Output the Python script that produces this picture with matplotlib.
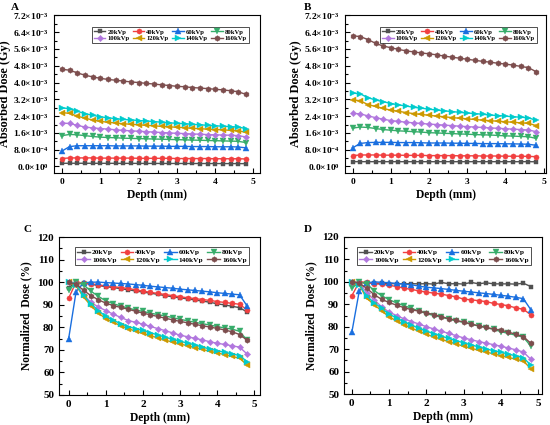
import numpy as np
import matplotlib
matplotlib.use("Agg")
import matplotlib.pyplot as plt
from matplotlib.ticker import FixedLocator, MultipleLocator, FuncFormatter

plt.rcParams['font.family'] = ['Liberation Serif', 'DejaVu Serif']
plt.rcParams['font.weight'] = 'bold'
plt.rcParams['mathtext.fontset'] = 'custom'
plt.rcParams['mathtext.rm'] = 'Liberation Serif:bold'
plt.rcParams['mathtext.bf'] = 'Liberation Serif:bold'
plt.rcParams['mathtext.it'] = 'Liberation Serif:bold:italic'

## depth points (mm)
depth = [0.0, 0.2, 0.4, 0.6, 0.8, 1.0, 1.2, 1.4, 1.6, 1.8, 2.0, 2.2, 2.4,
         2.6, 2.8, 3.0, 3.2, 3.4, 3.6, 3.8, 4.0, 4.2, 4.4, 4.6, 4.8]
series_names = ['20kVp', '40kVp', '60kVp', '80kVp',
                '100kVp', '120kVp', '140kVp', '160kVp']

## panel A : absorbed dose, units of 1e-3 Gy
a20 = [0.151, 0.155, 0.154, 0.154, 0.153, 0.152, 0.151, 0.151, 0.150, 0.149, 0.148, 0.147, 0.147,
       0.146, 0.145, 0.144, 0.144, 0.143, 0.142, 0.141, 0.140, 0.139, 0.138, 0.137, 0.135]
a40 = [0.38, 0.41, 0.41, 0.41, 0.41, 0.40, 0.40, 0.40, 0.40, 0.40, 0.39, 0.39, 0.39,
       0.39, 0.39, 0.38, 0.38, 0.38, 0.38, 0.38, 0.37, 0.37, 0.37, 0.37, 0.36]
a60 = [0.74, 0.95, 0.99, 0.99, 0.99, 0.99, 0.99, 0.98, 0.98, 0.98, 0.98, 0.97, 0.97,
       0.97, 0.96, 0.96, 0.96, 0.95, 0.95, 0.95, 0.94, 0.94, 0.94, 0.93, 0.89]
a80 = [1.47, 1.53, 1.51, 1.47, 1.43, 1.40, 1.38, 1.37, 1.35, 1.34, 1.33, 1.32, 1.31,
       1.30, 1.29, 1.28, 1.27, 1.26, 1.25, 1.24, 1.23, 1.22, 1.21, 1.20, 1.14]
a100 = [2.07, 2.05, 1.96, 1.88, 1.84, 1.81, 1.78, 1.75, 1.72, 1.70, 1.68, 1.66, 1.64,
        1.62, 1.60, 1.58, 1.57, 1.55, 1.54, 1.52, 1.51, 1.50, 1.49, 1.47, 1.41]
a120 = [2.57, 2.53, 2.40, 2.30, 2.22, 2.15, 2.11, 2.07, 2.04, 2.01, 1.99, 1.96, 1.94,
        1.91, 1.89, 1.87, 1.85, 1.82, 1.80, 1.78, 1.76, 1.75, 1.72, 1.70, 1.63]
a140 = [2.79, 2.76, 2.63, 2.52, 2.44, 2.37, 2.32, 2.28, 2.24, 2.22, 2.19, 2.17, 2.14,
        2.11, 2.08, 2.06, 2.04, 2.01, 1.99, 1.96, 1.94, 1.92, 1.90, 1.88, 1.81]
a160 = [4.63, 4.59, 4.46, 4.35, 4.27, 4.20, 4.15, 4.11, 4.07, 4.03, 4.00, 3.96, 3.93,
        3.89, 3.86, 3.82, 3.80, 3.76, 3.74, 3.71, 3.68, 3.65, 3.61, 3.56, 3.44]

## panel B : absorbed dose, units of 1e-3 Gy
b20 = [0.230, 0.229, 0.229, 0.229, 0.228, 0.228, 0.228, 0.228, 0.228, 0.228, 0.228, 0.228, 0.230,
       0.228, 0.228, 0.228, 0.230, 0.228, 0.229, 0.228, 0.228, 0.228, 0.228, 0.229, 0.225]
b40 = [0.52, 0.55, 0.55, 0.55, 0.54, 0.54, 0.54, 0.53, 0.53, 0.53, 0.52, 0.52, 0.52,
       0.52, 0.51, 0.51, 0.51, 0.50, 0.50, 0.50, 0.49, 0.49, 0.49, 0.48, 0.47]
b60 = [0.89, 1.10, 1.14, 1.15, 1.15, 1.15, 1.14, 1.14, 1.14, 1.13, 1.12, 1.12, 1.12,
       1.11, 1.11, 1.10, 1.10, 1.09, 1.09, 1.09, 1.08, 1.08, 1.07, 1.06, 1.01]
b80 = [1.83, 1.88, 1.86, 1.81, 1.76, 1.73, 1.70, 1.68, 1.66, 1.64, 1.61, 1.60, 1.58,
       1.57, 1.55, 1.54, 1.52, 1.51, 1.50, 1.48, 1.46, 1.45, 1.43, 1.42, 1.34]
b100 = [2.53, 2.51, 2.41, 2.33, 2.25, 2.19, 2.15, 2.11, 2.08, 2.05, 2.02, 2.00, 1.97,
        1.95, 1.92, 1.90, 1.88, 1.86, 1.84, 1.82, 1.80, 1.78, 1.76, 1.74, 1.66]
b120 = [3.18, 3.13, 2.95, 2.86, 2.77, 2.68, 2.63, 2.57, 2.52, 2.48, 2.44, 2.40, 2.37,
        2.33, 2.30, 2.27, 2.24, 2.21, 2.18, 2.16, 2.13, 2.11, 2.08, 2.06, 1.95]
b140 = [3.50, 3.46, 3.28, 3.17, 3.09, 3.00, 2.94, 2.88, 2.82, 2.78, 2.73, 2.69, 2.65,
        2.62, 2.58, 2.55, 2.52, 2.49, 2.45, 2.43, 2.40, 2.37, 2.35, 2.32, 2.20]
b160 = [6.23, 6.19, 6.05, 5.87, 5.74, 5.66, 5.58, 5.51, 5.46, 5.41, 5.37, 5.32, 5.26,
        5.21, 5.16, 5.11, 5.06, 5.01, 4.97, 4.92, 4.88, 4.83, 4.77, 4.71, 4.52]

## panel C : normalized dose (%)
c20 = [97.6, 100, 99.6, 99.1, 98.5, 98.0, 97.6, 97.1, 96.6, 96.1, 95.6, 95.1, 94.6,
       94.0, 93.5, 93.0, 92.6, 92.1, 91.6, 91.1, 90.4, 89.9, 89.3, 88.7, 86.8]
c40 = [92.9, 100, 99.6, 99.2, 98.8, 98.3, 98.0, 97.6, 97.2, 96.6, 96.0, 95.5, 95.0,
       94.5, 94.0, 93.5, 93.1, 92.7, 92.3, 91.9, 91.4, 91.0, 90.6, 90.2, 87.7]
c60 = [75.0, 95.8, 99.7, 100, 100, 99.8, 99.6, 99.4, 99.2, 98.9, 98.6, 98.2, 97.9,
       97.6, 97.3, 96.9, 96.6, 96.3, 96.0, 95.7, 95.3, 95.0, 94.7, 94.4, 89.5]
c80 = [96.4, 100, 98.8, 96.0, 93.7, 91.7, 90.5, 89.4, 88.5, 87.7, 87.0, 86.3, 85.6,
       85.0, 84.3, 83.5, 82.9, 82.2, 81.6, 81.0, 80.3, 79.7, 79.2, 78.2, 74.3]
c100 = [100, 99.0, 94.5, 91.0, 89.0, 87.4, 85.8, 84.4, 83.0, 82.2, 81.4, 80.4, 79.4,
        78.5, 77.5, 76.5, 75.8, 75.1, 74.4, 73.6, 72.9, 72.4, 71.8, 71.2, 68.2]
c120 = [100, 98.5, 93.4, 89.6, 86.3, 83.8, 82.2, 80.7, 79.4, 78.3, 77.3, 76.3, 75.3,
        74.3, 73.4, 72.6, 71.8, 71.0, 70.2, 69.4, 68.6, 67.9, 67.1, 66.3, 63.3]
c140 = [100, 98.8, 94.1, 90.4, 87.4, 84.8, 83.1, 81.6, 80.3, 79.4, 78.6, 77.6, 76.6,
        75.6, 74.7, 73.8, 73.0, 72.2, 71.2, 70.4, 69.6, 68.9, 68.2, 67.5, 64.8]
c160 = [100, 99.1, 96.4, 94.0, 92.2, 90.7, 89.6, 88.8, 88.0, 87.1, 86.3, 85.5, 84.8,
        84.0, 83.3, 82.6, 82.0, 81.3, 80.7, 80.1, 79.5, 78.8, 78.0, 76.8, 74.3]

## panel D : normalized dose (%)
d20 = [100, 99.7, 99.6, 99.4, 99.3, 99.2, 99.2, 99.1, 99.2, 99.1, 99.2, 99.0, 99.8,
       99.1, 99.2, 99.0, 99.8, 99.1, 99.6, 99.1, 99.1, 99.1, 99.0, 99.4, 97.9]
d40 = [93.8, 100, 99.8, 99.2, 98.9, 98.5, 97.9, 97.2, 96.6, 96.0, 95.4, 95.0, 94.5,
       93.9, 93.3, 92.3, 92.0, 91.6, 91.2, 90.4, 89.9, 89.3, 88.4, 87.8, 85.3]
d60 = [77.5, 96.0, 99.5, 100, 99.8, 99.6, 99.3, 99.0, 98.7, 98.1, 97.6, 97.3, 97.0,
       96.6, 96.2, 95.8, 95.5, 95.1, 94.8, 94.4, 94.0, 93.6, 93.1, 92.5, 87.6]
d80 = [97.1, 100, 99.1, 96.1, 93.8, 92.1, 90.6, 89.4, 88.2, 87.0, 85.8, 85.0, 84.2,
       83.4, 82.6, 81.9, 81.1, 80.3, 79.6, 78.8, 77.8, 77.0, 76.2, 75.3, 71.4]
d100 = [100, 99.4, 95.2, 91.9, 88.9, 86.5, 85.0, 83.5, 82.3, 81.2, 80.0, 79.0, 78.0,
        77.0, 76.0, 75.0, 74.2, 73.4, 72.7, 72.0, 71.3, 70.5, 69.7, 68.7, 65.5]
d120 = [100, 98.5, 92.7, 89.8, 87.1, 84.4, 82.6, 80.9, 79.4, 78.0, 76.6, 75.5, 74.4,
        73.3, 72.3, 71.3, 70.4, 69.5, 68.7, 67.9, 67.1, 66.3, 65.5, 64.7, 61.3]
d140 = [100, 98.8, 93.6, 90.7, 88.2, 85.6, 83.9, 82.2, 80.7, 79.3, 78.0, 76.9, 75.8,
        74.8, 73.8, 72.8, 71.9, 71.0, 70.1, 69.3, 68.6, 67.8, 67.0, 66.2, 62.9]
d160 = [100, 99.4, 97.1, 94.3, 92.2, 90.8, 89.6, 88.5, 87.6, 86.9, 86.2, 85.4, 84.5,
        83.6, 82.8, 82.1, 81.2, 80.4, 79.7, 79.0, 78.4, 77.6, 76.6, 75.6, 72.6]

colors = ['#515151', '#F14040', '#1A6FDF', '#37AD6B',
          '#B177DE', '#CC9900', '#00CBCC', '#7D4E4E']
markers = ['s', 'o', '^', 'v', 'D', '<', '>', 'h']
msizes = [3.4, 3.7, 4.0, 4.0, 3.2, 4.0, 4.0, 4.0]


def sci_label(v, pos=None):
    if abs(v) < 1e-12:
        return r'$0.0{\times}10^{0}$'
    e = int(np.floor(np.log10(abs(v)) + 1e-9))
    m = v / 10.0 ** e
    return r'$%.1f{\times}10^{%d}$' % (m, e)


def style_axes(ax, tick_size):
    for s in ax.spines.values():
        s.set_linewidth(0.8)
        s.set_color('black')
    ax.tick_params(which='both', direction='in', top=False, right=False,
                   labelsize=tick_size, width=0.8)
    ax.tick_params(which='major', length=3.5)
    ax.tick_params(which='minor', length=2)
    ax.xaxis.set_major_locator(MultipleLocator(1))
    ax.xaxis.set_minor_locator(MultipleLocator(0.5))
    for lab in ax.get_xticklabels() + ax.get_yticklabels():
        lab.set_fontweight('bold')


def draw_panel(ax, data, scale, fs_leg, anchor):
    handles = []
    for i in range(len(data)):
        y = np.array(data[i]) * scale
        h, = ax.plot(depth, y, color=colors[i], marker=markers[i],
                     markersize=msizes[i], linewidth=1.0, label=series_names[i],
                     markeredgewidth=0.3, markeredgecolor=colors[i])
        handles.append(h)
    # legend fills column by column, so interleave to get rows 20-80 / 100-160
    order = [0, 4, 1, 5, 2, 6, 3, 7]
    leg = ax.legend([handles[k] for k in order], [series_names[k] for k in order],
                    ncol=4, loc='upper right', bbox_to_anchor=anchor,
                    frameon=True, fancybox=False,
                    handlelength=1.7, handletextpad=0.3, columnspacing=0.55,
                    borderpad=0.3, labelspacing=0.15, borderaxespad=0.0,
                    prop={'weight': 'bold', 'size': fs_leg})
    leg.get_frame().set_edgecolor('black')
    leg.get_frame().set_linewidth(0.6)


fig = plt.figure(figsize=(5.5, 4.25), dpi=100)
W, H = 550.0, 425.0


def add_ax(l, r, t, b):
    return fig.add_axes([l / W, 1 - b / H, (r - l) / W, (b - t) / H])


axA = add_ax(54, 260, 15, 173)
axB = add_ax(345, 546, 15, 173)
axC = add_ax(59, 260, 237, 395)
axD = add_ax(344, 542, 237, 394)

draw_panel(axA, [a20, a40, a60, a80, a100, a120, a140, a160], 1e-3, 4.8, (0.945, 0.925))
draw_panel(axB, [b20, b40, b60, b80, b100, b120, b140, b160], 1e-3, 4.8, (0.955, 0.925))
draw_panel(axC, [c20, c40, c60, c80, c100, c120, c140, c160], 1.0, 5.3, (0.945, 0.937))
draw_panel(axD, [d20, d40, d60, d80, d100, d120, d140, d160], 1.0, 5.3, (0.944, 0.937))

yt = np.arange(0, 7.3e-3, 0.8e-3)
for ax, xr in ((axA, (-0.21, 5.17)), (axB, (-0.2, 5.06))):
    ax.set_xlim(*xr)
    ax.set_ylim(-0.31e-3, 7.22e-3)
    ax.yaxis.set_major_locator(FixedLocator(yt))
    ax.yaxis.set_minor_locator(MultipleLocator(0.4e-3))
    ax.yaxis.set_major_formatter(FuncFormatter(sci_label))
    style_axes(ax, 6.8)
    ax.set_ylabel('Absorbed Dose (Gy)', fontsize=8.8, fontweight='bold', labelpad=2)
    ax.set_xlabel('Depth (mm)', fontsize=8.3, fontweight='bold', labelpad=2)

for ax, xr in ((axC, (-0.26, 5.15)), (axD, (-0.21, 5.1))):
    ax.set_xlim(*xr)
    ax.set_ylim(50, 120)
    ax.yaxis.set_major_locator(MultipleLocator(10))
    ax.yaxis.set_minor_locator(MultipleLocator(5))
    style_axes(ax, 8)
    ax.set_ylabel('Normalized  Dose (%)', fontsize=8.3, fontweight='bold', labelpad=4)
    ax.set_xlabel('Depth (mm)', fontsize=8.3, fontweight='bold', labelpad=2)

for lab, x, y in (('A', 15, 7), ('B', 307, 7), ('C', 27, 229), ('D', 308, 229)):
    fig.text(x / W, 1 - y / H, lab, fontsize=8, fontweight='bold',
             ha='center', va='center')

fig.savefig('out.png', dpi=100)
